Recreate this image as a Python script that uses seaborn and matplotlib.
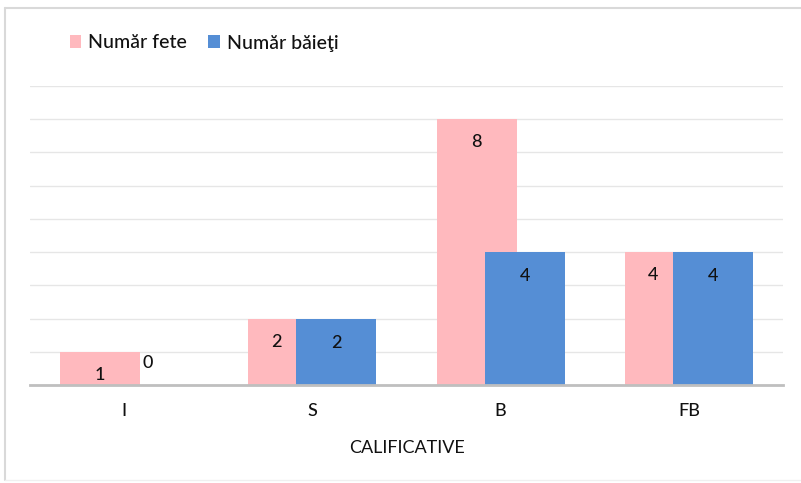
import matplotlib
matplotlib.use("Agg")
import matplotlib.pyplot as plt
import seaborn as sns
import pandas as pd
from matplotlib.lines import Line2D
from matplotlib.patches import Patch

categories = ["I", "S", "B", "FB"]
fete = [1, 2, 8, 4]
baieti = [0, 2, 4, 4]
series_names = ["Număr fete", "Număr băieţi"]
colors = ["#FFB9BE", "#558ED5"]
x_title = "CALIFICATIVE"

df = pd.DataFrame({
    "cat": categories * 2,
    "val": fete + baieti,
    "series": [series_names[0]] * len(categories) + [series_names[1]] * len(categories),
})

sns.set_theme(style="white")
plt.rcParams["font.family"] = ["Lato", "DejaVu Sans"]
plt.rcParams["font.weight"] = "medium"

W, H = 801, 483
fig = plt.figure(figsize=(W / 100, H / 100), dpi=100)
ax = fig.add_axes([30 / W, 1 - 385 / H, 753 / W, 299 / H])

sns.barplot(data=df, x="cat", y="val", hue="series", order=categories,
            hue_order=series_names, palette=colors, dodge=True, width=0.51,
            saturation=1, ax=ax, legend=False)

# overlapping bars, Excel-style
bar_w = 0.424
for p in ax.patches:
    c = p.get_x() + p.get_width() / 2
    p.set_x(c - bar_w / 2)
    p.set_width(bar_w)
    p.set_edgecolor("none")
    p.set_linewidth(0)

txt = "#111111"
ax.set_ylim(0, 9)
ax.set_xlim(-0.5, len(categories) - 0.5)
ax.set_yticks(range(0, 10))
ax.yaxis.grid(True, color="#E6E6E6", linewidth=1)
ax.set_axisbelow(True)
ax.tick_params(axis="y", left=False, labelleft=False)
ax.tick_params(axis="x", bottom=False, labelsize=13, pad=7, labelcolor=txt)
for s in ["top", "right", "left"]:
    ax.spines[s].set_visible(False)
ax.spines["bottom"].set_color("#BFBFBF")
ax.spines["bottom"].set_linewidth(2)
ax.set_xlabel(x_title, fontsize=13, color=txt, labelpad=15)
ax.set_ylabel("")

pink_bars = ax.containers[0]
blue_bars = ax.containers[1]
for pb, bb, vf, vb in zip(pink_bars, blue_bars, fete, baieti):
    pl = pb.get_x()
    if vb >= vf:
        px = (pl + bb.get_x()) / 2 + 0.02
    else:
        px = pl + pb.get_width() / 2
    ax.annotate(str(vf), (px, vf), xytext=(0, -23), textcoords="offset pixels",
                ha="center", va="center", fontsize=13, color=txt)
    bx = bb.get_x() + bb.get_width() / 2
    if vb > 0:
        ax.annotate(str(vb), (bx, vb), xytext=(0, -24), textcoords="offset pixels",
                    ha="center", va="center", fontsize=13, color=txt)
    else:
        ax.annotate(str(vb), (bx, vb), xytext=(0, 22), textcoords="offset pixels",
                    ha="center", va="center", fontsize=13, color=txt)

handles = [Patch(facecolor=colors[0], edgecolor="none"),
           Patch(facecolor=colors[1], edgecolor="none")]
leg = fig.legend(handles, series_names, loc="center left", bbox_to_anchor=(52 / W, 1 - 43 / H),
                 ncol=2, frameon=False, fontsize=14, handlelength=0.6, handleheight=0.6,
                 handletextpad=0.35, columnspacing=1.1)
for t in leg.get_texts():
    t.set_color(txt)

# chart frame
fig.add_artist(Line2D([5 / W, 1], [1 - 8 / H, 1 - 8 / H], color="#D9D9D9", linewidth=1.5,
                      transform=fig.transFigure))
fig.add_artist(Line2D([5 / W, 5 / W], [1 - 8 / H, 1 - 480 / H], color="#D9D9D9", linewidth=1.5,
                      transform=fig.transFigure))
fig.add_artist(Line2D([5 / W, 1], [1 - 480 / H, 1 - 480 / H], color="#F0F0F0", linewidth=1,
                      transform=fig.transFigure))

fig.savefig("out.png", dpi=100, facecolor="white")
